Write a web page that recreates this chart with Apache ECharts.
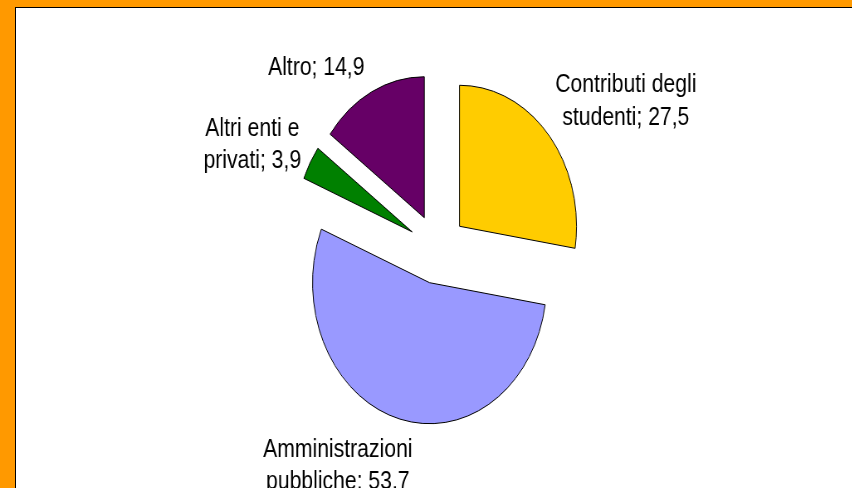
<!DOCTYPE html>
<html>
<head>
<meta charset="utf-8">
<script src="https://cdn.jsdelivr.net/npm/echarts@6/dist/echarts.min.js"></script>
<style>
  html, body { margin: 0; padding: 0; width: 852px; height: 488px; overflow: hidden; background: #FF9900; }
  #frame { position: absolute; left: 15px; top: 7px; width: 900px; height: 600px; background: #fff; border-left: 1px solid #000; border-top: 1px solid #000; }
  /* il grafico originale è schiacciato in orizzontale */
  #chart { position: absolute; left: 0; top: 0; width: 1027px; height: 488px; transform: scaleX(0.83); transform-origin: 0 0; }
</style>
</head>
<body>
<div id="frame"></div>
<div id="chart"></div>
<script>
// dati della torta
var categorie = ['Contributi degli\nstudenti', 'Amministrazioni\npubbliche', 'Altri enti e\nprivati', 'Altro'];
var valori = [27.5, 53.7, 3.9, 14.9];
var colori = ['#FFCC00', '#9999FF', '#008000', '#660066'];

// posizione delle etichette (coordinate del grafico non scalato) e interlinea
var posEtichette = [[754, 101], [407, 466], [304, 145], [381, 68]];
var interlinea = [33, 32, 32, 33];

var chart = echarts.init(document.getElementById('chart'), null, { renderer: 'canvas' });

var fette = [];
var etichette = [];
for (var i = 0; i < valori.length; i++) {
  fette.push({ name: categorie[i], value: valori[i], selected: true, itemStyle: { color: colori[i] } });
  etichette.push({ name: categorie[i], value: valori[i], label: { lineHeight: interlinea[i] } });
}

var base = {
  type: 'pie',
  center: [527, 249],
  radius: 141,
  startAngle: 90,
  clockwise: true,
  avoidLabelOverlap: false,
  emphasis: { disabled: true }
};

chart.setOption({
  animation: false,
  backgroundColor: 'transparent',
  series: [
    // fette esplose
    Object.assign({}, base, {
      selectedMode: 'multiple',
      selectedOffset: 35,
      itemStyle: { borderColor: '#000', borderWidth: 1 },
      label: { show: false },
      labelLine: { show: false },
      data: fette
    }),
    // solo etichette (la serie esplosa ignora labelLayout)
    Object.assign({}, base, {
      silent: true,
      selectedMode: false,
      itemStyle: { color: 'rgba(0,0,0,0)', borderWidth: 0 },
      label: {
        show: true,
        position: 'outside',
        color: '#000',
        fontFamily: 'Liberation Sans, Arial, sans-serif',
        fontSize: 25.5,
        align: 'center',
        formatter: function (p) {
          return p.name + '; ' + String(p.value).replace('.', ',');
        }
      },
      labelLine: { show: false },
      labelLayout: function (p) {
        var pos = posEtichette[p.dataIndex];
        return { x: pos[0], y: pos[1], align: 'center', verticalAlign: 'middle' };
      },
      data: etichette
    })
  ]
});
</script>
</body>
</html>
